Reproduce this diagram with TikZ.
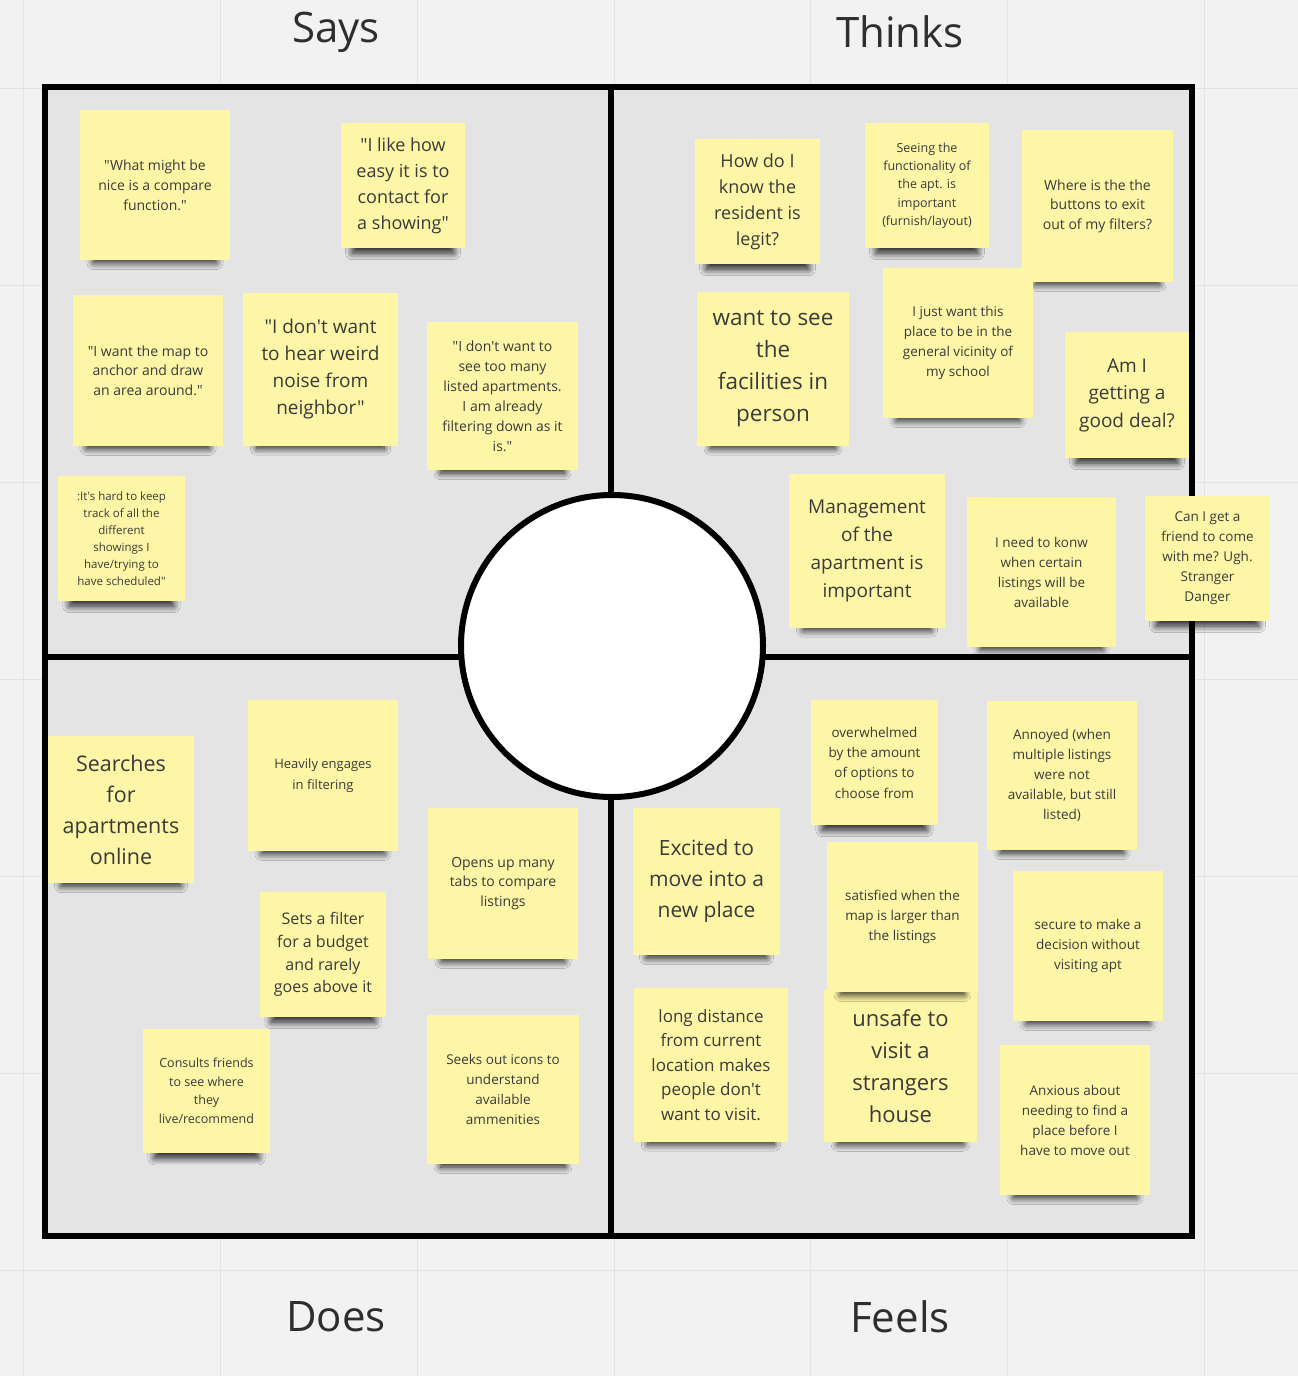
\documentclass[tikz,border=0pt]{standalone}
\usepackage{fontspec}
\setmainfont{Open Sans}
\newfontfamily\openfont{Open Sans}
\usetikzlibrary{shadows.blur}
\definecolor{bgc}{HTML}{F2F2F2}
\definecolor{gridc}{HTML}{E3E3E3}
\definecolor{framefill}{HTML}{E4E4E4}
\definecolor{stickyc}{HTML}{FEF6A7}
\definecolor{inkc}{HTML}{3A3A3A}
\definecolor{titlec}{HTML}{2E2E2E}
\tikzset{
  sticky/.style={fill=stickyc, draw=none, inner sep=0pt, align=center, text=inkc,
    blur shadow={shadow xshift=0pt, shadow yshift=-20pt, shadow scale=0.82,
      shadow opacity=85, shadow blur radius=8pt, shadow blur steps=12}},
  heading/.style={font=\openfont\fontsize{42}{50}\selectfont, text=titlec, inner sep=0pt},
  frameline/.style={line width=5.5pt, draw=black},
}
\newcommand\stickynote[8]{%
  \node[sticky, minimum width=#4, minimum height=#5, font={\openfont\fontsize{#6}{#7}\selectfont}]
    (#1) at ({#2+#4/2},{#3+#5/2}) {#8};}
\begin{document}
\begin{tikzpicture}[x=1pt,y=-1pt]
\useasboundingbox (0,0) rectangle (1298,1376);
\fill[bgc] (0,0) rectangle (1298,1376);
% grid
\foreach \gx in {23,220,417,614,810,1007,1204}
  \draw[gridc, line width=1pt] (\gx,0) -- (\gx,1376);
\foreach \gy in {88,285,482,679,876,1073,1270}
  \draw[gridc, line width=1pt] (0,\gy) -- (1298,\gy);
% frame
\fill[framefill] (45,87) rectangle (1192,1236);
\draw[frameline] (45,87) rectangle (1192,1236);
\draw[frameline] (611,87) -- (611,1236);
\draw[frameline] (45,657) -- (1192,657);
\node[circle, draw=black, line width=6pt, fill=white, minimum size=302pt, inner sep=0pt] (center) at (612,646) {};
% headings
\node[heading] (says) at (336,32) {Says};
\node[heading] (thinks) at (900,32) {Thinks};
\node[heading] (does) at (336,1317) {Does};
\node[heading] (feels) at (900,1317) {Feels};
% Says
\stickynote{n1}{80}{110}{150}{150}{14}{20}{"What might be\\nice is a compare\\function."}
\stickynote{n2}{341}{123}{124}{125}{18}{26}{"I like how\\easy it is to\\contact for\\a showing"}
\stickynote{n3}{73}{295}{150}{151}{14}{19.5}{"I want the map to\\anchor and draw\\an area around."}
\stickynote{n4}{243}{293}{155}{153}{19}{27}{"I don't want\\to hear weird\\noise from\\neighbor"}
\stickynote{n5}{427}{322}{151}{148}{14}{20}{"I don't want to\\see too many\\listed apartments.\\I am already\\filtering down as it\\is."}
\stickynote{n6}{58}{476}{127}{125}{11.5}{17}{:It's hard to keep\\track of all the\\different\\showings I\\have/trying to\\have scheduled"}
% Thinks
\stickynote{n7}{695}{139}{125}{125}{18}{26}{How do I\\know the\\resident is\\legit?}
\stickynote{n8}{865}{123}{124}{125}{12.5}{18.3}{Seeing the\\functionality of\\the apt. is\\important\\(furnish/layout)}
\stickynote{n9}{1022}{130}{151}{152}{14}{19.5}{Where is the the\\buttons to exit\\out of my filters?}
\stickynote{n10}{697}{292}{152}{154}{22.5}{32}{want to see\\the\\facilities in\\person}
\stickynote{n11}{883}{268}{150}{150}{13.5}{20}{I just want this\\place to be in the\\general vicinity of\\my school}
\stickynote{n12}{1065}{332}{124}{126}{19}{27.5}{Am I\\getting a\\good deal?}
\stickynote{n13}{789}{474}{156}{154}{19}{28}{Management\\of the\\apartment is\\important}
\stickynote{n14}{967}{497}{149}{150}{13.5}{20}{I need to konw\\when certain\\listings will be\\available}
\stickynote{n15}{1145}{496}{125}{125}{13.5}{20}{Can I get a\\friend to come\\with me? Ugh.\\Stranger\\Danger}
% Does
\stickynote{n16}{48}{736}{146}{147}{21.5}{31}{Searches\\for\\apartments\\online}
\stickynote{n17}{248}{700}{150}{151}{13}{21}{Heavily engages\\in filtering}
\stickynote{n18}{428}{808}{150}{151}{14}{19.5}{Opens up many\\tabs to compare\\listings}
\stickynote{n19}{260}{892}{126}{125}{16}{22.7}{Sets a filter\\for a budget\\and rarely\\goes above it}
\stickynote{n20}{143}{1029}{127}{124}{12.5}{18.5}{Consults friends\\to see where\\they\\live/recommend}
\stickynote{n21}{427}{1015}{152}{149}{13.5}{20}{Seeks out icons to\\understand\\available\\ammenities}
% Feels
\stickynote{n22}{811}{700}{127}{125}{13.5}{20.3}{overwhelmed\\by the amount\\of options to\\choose from}
\stickynote{n23}{987}{701}{150}{149}{13.5}{20}{Annoyed (when\\multiple listings\\were not\\available, but still\\listed)}
\stickynote{n24}{633}{808}{147}{147}{21}{31}{Excited to\\move into a\\new place}
\stickynote{n28}{824}{990}{153}{152}{22}{32}{unsafe to\\visit a\\strangers\\house}
\stickynote{n25}{827}{842}{151}{150}{13.5}{20}{satisfied when the\\map is larger than\\the listings}
\stickynote{n26}{1013}{871}{150}{150}{13.5}{20}{secure to make a\\decision without\\visiting apt}
\stickynote{n27}{634}{988}{154}{154}{17}{24.5}{long distance\\from current\\location makes\\people don't\\want to visit.}
\stickynote{n29}{1000}{1045}{150}{150}{13.5}{20}{Anxious about\\needing to find a\\place before I\\have to move out}
\end{tikzpicture}
\end{document}
